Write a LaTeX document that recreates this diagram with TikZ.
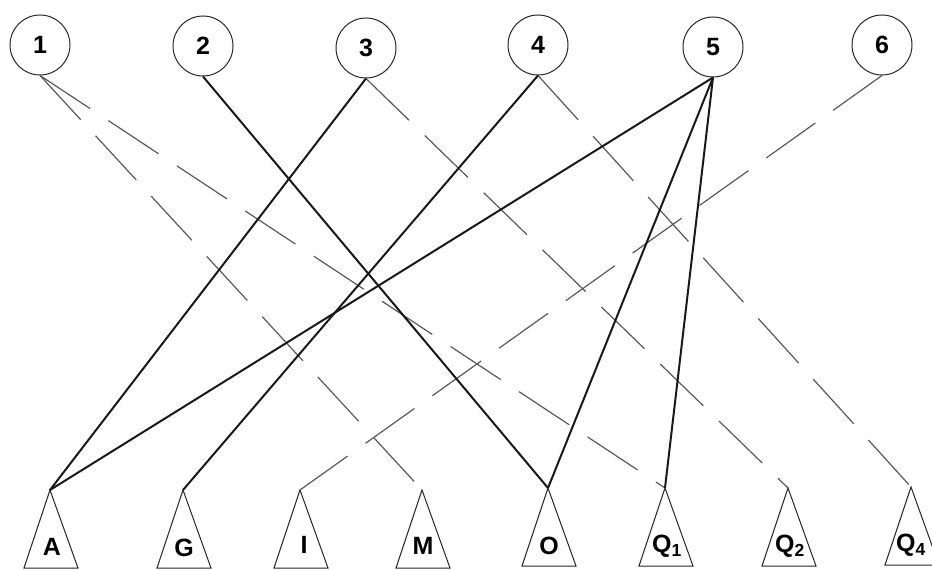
\documentclass[tikz,border=0pt]{standalone}
\usepackage{fontspec}
\setmainfont{Liberation Sans}
\begin{document}
\begin{tikzpicture}[x=1pt,y=-1pt,
  circ/.style={circle,draw=black!85,line width=1pt,minimum size=60pt,inner sep=0pt,font=\fontsize{25}{27}\selectfont\bfseries},
  tri/.style={draw=black!85,line width=1pt},
  lbl/.style={font=\fontsize{25}{27}\selectfont\bfseries,inner sep=0pt},
  solidedge/.style={draw=black!90,line width=2pt},
  dashedge/.style={draw=black!65,line width=1.2pt,dash pattern=on 60pt off 22pt}]
\useasboundingbox (0,0) rectangle (932,570);
% circles
\node[circ] (c1) at (40,45) {1};
\node[circ] (c2) at (203,46) {2};
\node[circ] (c3) at (366,48) {3};
\node[circ] (c4) at (538,45) {4};
\node[circ] (c5) at (713,47) {5};
\node[circ] (c6) at (882,45) {6};
% triangle apexes
\coordinate (A) at (50,490);
\coordinate (G) at (183,490);
\coordinate (I) at (300,490);
\coordinate (M) at (422,490);
\coordinate (O) at (548,488);
\coordinate (Q1) at (665,488);
\coordinate (Q2) at (788,488);
\coordinate (Q4) at (911,487);
\foreach \p in {A,G,I,M,O,Q1,Q2,Q4}{
  \draw[tri] (\p) -- ++(-26,78) -- ++(54,0) -- cycle;
}
% labels
\node[lbl] (lA) at (52,547) {A};
\node[lbl] (lG) at (184,548) {G};
\node[lbl] (lI) at (304,545) {I};
\node[lbl] (lM) at (423,546) {M};
\node[lbl] (lO) at (549,546) {O};
\node[lbl] (lQ1) at (667,546) {Q$_{\mathbf{1}}$};
\node[lbl] (lQ2) at (790,546) {Q$_{\mathbf{2}}$};
\node[lbl] (lQ4) at (911,545) {Q$_{\mathbf{4}}$};
% dashed edges
\draw[dashedge] (c1.south) -- (M);
\draw[dashedge] (c1.south) -- (Q1);
\draw[dashedge] (c3.south) -- (Q2);
\draw[dashedge] (c4.south) -- (Q4);
\draw[dashedge] (c6.south) -- (I);
% solid edges
\draw[solidedge] (c2.south) -- (O);
\draw[solidedge] (c3.south) -- (A);
\draw[solidedge] (c4.south) -- (G);
\draw[solidedge] (c5.south) -- (A);
\draw[solidedge] (c5.south) -- (O);
\draw[solidedge] (c5.south) -- (Q1);
\end{tikzpicture}
\end{document}
